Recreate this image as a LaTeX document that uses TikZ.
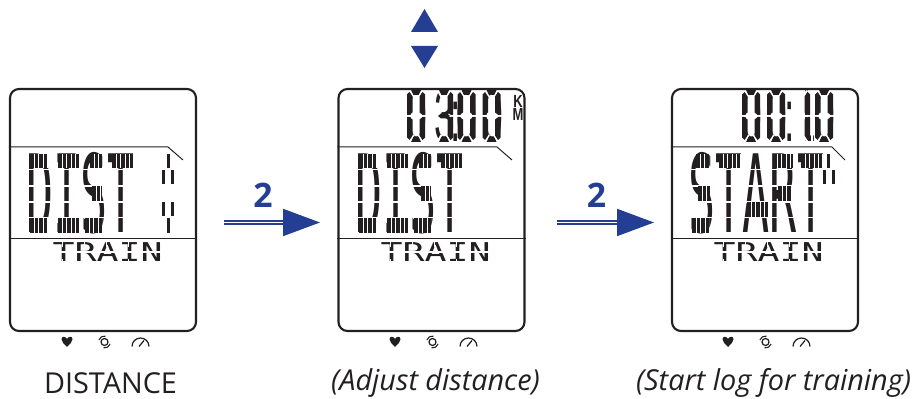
\documentclass[tikz,border=0pt]{standalone}
\usepackage{fontspec}
\usetikzlibrary{arrows.meta,calc,positioning}
\setmainfont{Open Sans}
\newfontfamily\lcdfont{DejaVu Sans Mono}
\newfontfamily\clockfont{Liberation Sans}
\definecolor{lcdink}{HTML}{231F20}
\definecolor{keyblue}{HTML}{233E92}
\tikzset{
	screen/.style={draw=lcdink,line width=.6pt,rounded corners=.09cm,minimum width=1.86cm,minimum height=2.42cm,inner sep=0},
	rule/.style={draw=lcdink,line width=.28pt},
	lcdword/.style={text=lcdink,inner sep=0,anchor=base west,transform shape,yscale=2.4,font=\lcdfont\fontsize{12.8}{14}\selectfont},
	lcdsmall/.style={text=lcdink,inner sep=0,anchor=base west,transform shape,yscale=.71,font=\lcdfont\fontsize{10.4}{12}\selectfont},
	lcdclock/.style={text=lcdink,inner sep=0,anchor=base west,transform shape,yscale=2,font=\clockfont\fontsize{10.6}{12}\selectfont},
	lcdunit/.style={text=lcdink,inner sep=0,transform shape,yscale=1.35,font=\clockfont\bfseries\fontsize{3.7}{4}\selectfont},
	cut/.style={draw=white,line width=.3pt},
	stepnum/.style={text=keyblue,inner sep=0,font=\bfseries\fontsize{9.6}{11}\selectfont},
	caption/.style={text=lcdink,inner sep=0,anchor=base,font=\fontsize{8.2}{10}\selectfont},
	keyarrow/.style={draw=keyblue,double=white,double distance=.55pt,line width=.55pt,-{Triangle[length=.37cm,width=.27cm,fill=keyblue]}},
	segment/.style={fill=lcdink,draw=none},
	lcdicons/.pic={
		\fill[lcdink] (0,-.05) .. controls (-.035,-.015) and (-.055,.005) .. (-.055,.028) .. controls (-.055,.06) and (-.015,.06) .. (0,.03) .. controls (.015,.06) and (.055,.06) .. (.055,.028) .. controls (.055,.005) and (.035,-.015) .. (0,-.05) -- cycle;
		\draw[lcdink,line width=.35pt] (.375,0) circle (.035);
		\draw[lcdink,line width=.3pt] (.375,0) ++(160:.06) arc[start angle=160, end angle=80, radius=.06];
		\draw[lcdink,line width=.3pt] (.375,0) ++(-20:.06) arc[start angle=-20, end angle=-100, radius=.06];
		\draw[lcdink,line width=.35pt] (.65,-.045) arc[start angle=180, end angle=0, radius=.085];
		\draw[lcdink,line width=.35pt] (.72,-.045) -- (.77,.015);
	}
}
\newcommand{\lcdcut}[2]{
	\foreach \r in {2.295,2.13,1.97,1.815}
		\draw[cut,line width=.4pt] ({#1},\r) -- ++({#2},0);
}
\newcommand{\lcdbars}[1]{
	\foreach \a/\b/\c/\d in {#1} {
		\fill[segment] (\a,\c) rectangle (\b,\d);
		\begin{scope}
			\clip (\a,\c) rectangle (\b,\d);
			\foreach \t in {1,...,5}
				\draw[cut] ({\a+\t*.044},\c) -- ({\a+\t*.044},\d);
		\end{scope}
	}
}
\newcommand{\smallcut}[1]{
	\draw[cut,line width=.35pt] (#1,1.47) -- ++(1.1,0);
	\foreach \t in {0,...,4} {
		\draw[cut,line width=.3pt] ({#1+.105+\t*.22},1.52) -- ++(0,.06);
		\draw[cut,line width=.3pt] ({#1+.105+\t*.22},1.35) -- ++(0,.05);
	}
}
\newcommand{\sega}{(.04,0) -- (.14,0) -- (.115,-.05) -- (.065,-.05) -- cycle}
\newcommand{\segb}{(.18,-.045) -- (.155,-.02) -- (.125,-.065) -- (.125,-.225) -- (.16,-.25) -- (.18,-.25) -- cycle}
\newcommand{\segc}{(.18,-.475) -- (.155,-.50) -- (.125,-.455) -- (.125,-.295) -- (.16,-.27) -- (.18,-.27) -- cycle}
\newcommand{\segd}{(.04,-.52) -- (.14,-.52) -- (.115,-.47) -- (.065,-.47) -- cycle}
\newcommand{\sege}{(0,-.475) -- (.025,-.50) -- (.055,-.455) -- (.055,-.295) -- (.02,-.27) -- (0,-.27) -- cycle}
\newcommand{\segf}{(0,-.045) -- (.025,-.02) -- (.055,-.065) -- (.055,-.225) -- (.02,-.25) -- (0,-.25) -- cycle}
\newcommand{\segg}{(.03,-.26) -- (.06,-.235) -- (.12,-.235) -- (.15,-.26) -- (.12,-.285) -- (.06,-.285) -- cycle}
\newcommand{\segdigit}[2]{
	\begin{scope}[shift={(#1,3.09)}]
		\draw[cut,line width=.6pt] (-.02,-.26) -- (.2,-.26);
		\draw[cut,line width=.6pt] (.03,-.005) -- (.065,-.07);
		\draw[cut,line width=.6pt] (.15,-.005) -- (.115,-.07);
		\draw[cut,line width=.6pt] (.02,-.53) -- (.065,-.45);
		\draw[cut,line width=.6pt] (.16,-.53) -- (.115,-.45);
		\foreach \s in {#2}
			\fill[segment] \csname seg\s\endcsname;
	\end{scope}
}

\begin{document}
\begin{tikzpicture}
	\useasboundingbox (0,0) rectangle (9.13,3.99);
	\node[lcdclock] (adjustclock) at (4.055,2.57) {0\kern2.1pt 3\kern-1.4pt:\kern-1pt 0\kern1.25pt 0};
	\segdigit{4.07}{a,b,c,d,e,f}
	\segdigit{4.35}{a,b,c,d,g}
	\segdigit{4.575}{a,b,c,d,e,f}
	\segdigit{4.825}{a,b,c,d,e,f}
	\node[lcdunit] (unitk) at (5.18,2.98) {K};
	\node[lcdunit] (unitm) at (5.18,2.85) {M};

	\node[lcdclock] (startclock) at (7.405,2.57) {0\kern1.25pt 0\kern-.6pt:\kern.2pt 1\kern-.6pt 0};
	\fill[white] (7.96,2.55) rectangle (8.05,3.12);
	\fill[white] (8.105,2.55) rectangle (8.13,2.75);
	\segdigit{7.42}{a,b,c,d,e,f}
	\segdigit{7.67}{a,b,c,d,e,f}
	\segdigit{7.92}{b,c}
	\segdigit{8.15}{a,b,c,d,e,f}

	\node[screen] (distscreen) at (1.03,1.89) {};
	\node[screen] (adjustscreen) at (4.315,1.89) {};
	\node[screen] (startscreen) at (7.65,1.89) {};
	\draw[rule] (distscreen.west |- 0,2.52) -- (1.68,2.52) -- (1.83,2.39);
	\draw[rule] (adjustscreen.west |- 0,2.52) -- (4.97,2.52) -- (5.12,2.39);
	\draw[rule] (startscreen.west |- 0,2.52) -- (8.32,2.52) -- (8.45,2.39);
	\draw[rule] (distscreen.west |- 0,1.61) -- (distscreen.east |- 0,1.61);
	\draw[rule] (adjustscreen.west |- 0,1.61) -- (adjustscreen.east |- 0,1.61);
	\draw[rule] (startscreen.west |- 0,1.61) -- (startscreen.east |- 0,1.61);

	\node[lcdword] (distword) at (.26,1.66) {DIST};
	\lcdcut{.28}{1.1}
	\lcdbars{.30/.48/2.31/2.45,.58/.79/2.31/2.45,.90/1.02/2.31/2.45,1.12/1.34/2.31/2.45,.92/1.02/1.98/2.13,.30/.48/1.66/1.81,.58/.79/1.66/1.81,.85/1.02/1.66/1.81}
	\fill[segment] (1.67,2.31) rectangle (1.70,2.45);
	\fill[segment] (1.62,2.15) rectangle (1.65,2.29);
	\fill[segment] (1.71,2.15) rectangle (1.74,2.29);
	\fill[segment] (1.62,1.83) rectangle (1.65,1.97);
	\fill[segment] (1.71,1.83) rectangle (1.74,1.97);
	\fill[segment] (1.67,1.66) rectangle (1.70,1.81);

	\node[lcdword] (adjustword) at (3.55,1.66) {DIST};
	\lcdcut{3.57}{1.1}
	\lcdbars{3.59/3.77/2.31/2.45,3.87/4.08/2.31/2.45,4.19/4.31/2.31/2.45,4.41/4.63/2.31/2.45,4.21/4.31/1.98/2.13,3.59/3.77/1.66/1.81,3.87/4.08/1.66/1.81,4.14/4.31/1.66/1.81}

	\node[lcdword] (startword) at (6.88,1.66) {START};
	\lcdcut{6.90}{1.35}
	\lcdbars{6.96/7.09/2.31/2.45,7.19/7.42/2.31/2.45,7.73/7.93/2.31/2.45,8.01/8.23/2.31/2.45,6.98/7.10/1.98/2.13,7.78/7.91/1.98/2.13,7.47/7.68/1.82/1.97,6.92/7.09/1.66/1.81}
	\fill[segment] (8.27,2.31) rectangle (8.30,2.45);
	\fill[segment] (8.23,2.15) rectangle (8.26,2.29);
	\fill[segment] (8.32,2.15) rectangle (8.35,2.29);

	\node[lcdsmall] (disttrain) at (.52,1.37) {TRAIN};
	\smallcut{.52}
	\node[lcdsmall] (adjusttrain) at (3.80,1.37) {TRAIN};
	\smallcut{3.80}
	\node[lcdsmall] (starttrain) at (7.13,1.37) {TRAIN};
	\smallcut{7.13}

	\pic at (.67,.57) {lcdicons};
	\pic at (3.95,.57) {lcdicons};
	\pic at (7.28,.57) {lcdicons};

	\fill[keyblue] (4.11,3.67) -- (4.38,3.67) -- (4.245,3.90) -- cycle;
	\fill[keyblue] (4.11,3.53) -- (4.38,3.53) -- (4.245,3.31) -- cycle;

	\coordinate (firstfrom) at (2.24,1.765);
	\coordinate (firstto) at (3.20,1.765);
	\coordinate (secondfrom) at (5.57,1.765);
	\coordinate (secondto) at (6.54,1.765);
	\draw[keyarrow] (firstfrom) -- (firstto);
	\draw[keyarrow] (secondfrom) -- (secondto);
	\node[stepnum] (firststep) at (2.63,2.04) {2};
	\node[stepnum] (secondstep) at (5.965,2.04) {2};

	\node[caption] (distcaption) at (1.105,.05) {DISTANCE};
	\node[caption] (adjustcaption) at (4.355,.08) {\itshape (Adjust distance)};
	\node[caption] (startcaption) at (7.735,.08) {\itshape (Start log for training)};
\end{tikzpicture}
\end{document}
